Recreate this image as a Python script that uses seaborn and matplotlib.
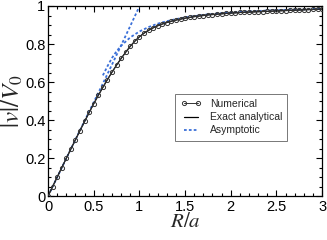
import matplotlib
matplotlib.use("Agg")
import matplotlib.pyplot as plt
import seaborn as sns
import numpy as np
from matplotlib.ticker import MultipleLocator, FuncFormatter

# ---- data ----
r_num = [0.00, 0.05, 0.10, 0.15, 0.20, 0.25, 0.30, 0.35, 0.40, 0.45,
         0.50, 0.55, 0.60, 0.65, 0.70, 0.75, 0.80, 0.85, 0.90, 0.95,
         1.00, 1.05, 1.10, 1.15, 1.20, 1.25, 1.30, 1.35, 1.40, 1.45,
         1.50, 1.55, 1.60, 1.65, 1.70, 1.75, 1.80, 1.85, 1.90, 1.95,
         2.00, 2.05, 2.10, 2.15, 2.20, 2.25, 2.30, 2.35, 2.40, 2.45,
         2.50, 2.55, 2.60, 2.65, 2.70, 2.75, 2.80, 2.85, 2.90, 2.95, 3.00]
v_num = [0.000, 0.050, 0.100, 0.150, 0.199, 0.248, 0.297, 0.345, 0.393, 0.440,
         0.486, 0.530, 0.572, 0.613, 0.652, 0.689, 0.724, 0.757, 0.788, 0.815,
         0.838, 0.857, 0.872, 0.885, 0.896, 0.905, 0.913, 0.920, 0.926, 0.931,
         0.936, 0.940, 0.944, 0.947, 0.950, 0.953, 0.955, 0.957, 0.959, 0.961,
         0.963, 0.964, 0.966, 0.967, 0.968, 0.969, 0.970, 0.971, 0.972, 0.973,
         0.974, 0.975, 0.976, 0.977, 0.978, 0.979, 0.980, 0.981, 0.982, 0.983, 0.984]
r_exact = r_num
v_exact = v_num

r_asym_small = [0.0, 0.2, 0.4, 0.6, 0.7, 0.8, 0.9, 1.0, 1.03]
v_asym_small = [0.0, 0.199, 0.396, 0.592, 0.692, 0.793, 0.895, 0.998, 1.03]
r_asym_large = [0.60, 0.65, 0.70, 0.75, 0.80, 0.90, 1.00, 1.10, 1.20, 1.30,
                1.40, 1.50, 1.75, 2.00, 2.25, 2.50, 2.75, 3.00]
v_asym_large = [0.635, 0.683, 0.727, 0.762, 0.791, 0.835, 0.866, 0.889, 0.907, 0.920,
                0.931, 0.940, 0.956, 0.966, 0.973, 0.978, 0.982, 0.985]

x_major = [0, 0.5, 1, 1.5, 2, 2.5, 3]
y_major = [0, 0.2, 0.4, 0.6, 0.8, 1.0]

# ---- style ----
sns.set_style("ticks")
plt.rcParams['font.family'] = ['Liberation Sans', 'DejaVu Sans']
plt.rcParams['mathtext.fontset'] = 'stix'

fig = plt.figure(figsize=(3.27, 2.40), dpi=100)
ax = fig.add_axes([0.147, 0.183, 0.838, 0.792])

blue = '#3a6fd8'
sns.lineplot(x=r_asym_small, y=v_asym_small, ax=ax, color=blue, lw=1.3,
             linestyle=(0, (1.5, 1.2)), label='Asymptotic', zorder=2)
sns.lineplot(x=r_asym_large, y=v_asym_large, ax=ax, color=blue, lw=1.3,
             linestyle=(0, (1.5, 1.2)), zorder=2)
sns.lineplot(x=r_exact, y=v_exact, ax=ax, color='black', lw=0.9,
             label='Exact analytical', zorder=3)
sns.lineplot(x=r_num, y=v_num, ax=ax, color='#333333', lw=0.7,
             marker='o', markersize=3.0, markerfacecolor='none',
             markeredgecolor='#333333', markeredgewidth=0.7,
             label='Numerical', zorder=4)

ax.set_xlim(0, 3)
ax.set_ylim(0, 1)
ax.set_xticks(x_major)
ax.set_yticks(y_major)
fmt = FuncFormatter(lambda v, p: '%g' % v)
ax.xaxis.set_major_formatter(fmt)
ax.yaxis.set_major_formatter(fmt)
ax.xaxis.set_minor_locator(MultipleLocator(0.1))
ax.yaxis.set_minor_locator(MultipleLocator(0.05))
ax.tick_params(which='both', direction='in', top=True, right=True,
               labelsize=10.5, width=0.8, colors='black')
ax.tick_params(axis='x', which='both', pad=2.5)
ax.tick_params(axis='y', which='both', pad=2.0)
ax.tick_params(which='major', length=4)
ax.tick_params(which='minor', length=2.2)
for s in ax.spines.values():
    s.set_linewidth(0.9)
    s.set_color('black')

ax.set_xlabel(r'$R/a$', fontsize=15, labelpad=-1)
ax.set_ylabel(r'$|v|/V_0$', fontsize=18, labelpad=0)

handles, labels = ax.get_legend_handles_labels()
order = [labels.index('Numerical'), labels.index('Exact analytical'), labels.index('Asymptotic')]
leg = ax.legend([handles[i] for i in order], [labels[i] for i in order],
                loc='lower right', bbox_to_anchor=(0.892, 0.265),
                fontsize=7.5, numpoints=2, handlelength=2.0, handletextpad=0.8,
                frameon=True, fancybox=False, borderpad=0.5, labelspacing=0.3)
leg.get_frame().set_edgecolor('#555555')
leg.get_frame().set_linewidth(0.7)

fig.savefig('out.png', dpi=100)
